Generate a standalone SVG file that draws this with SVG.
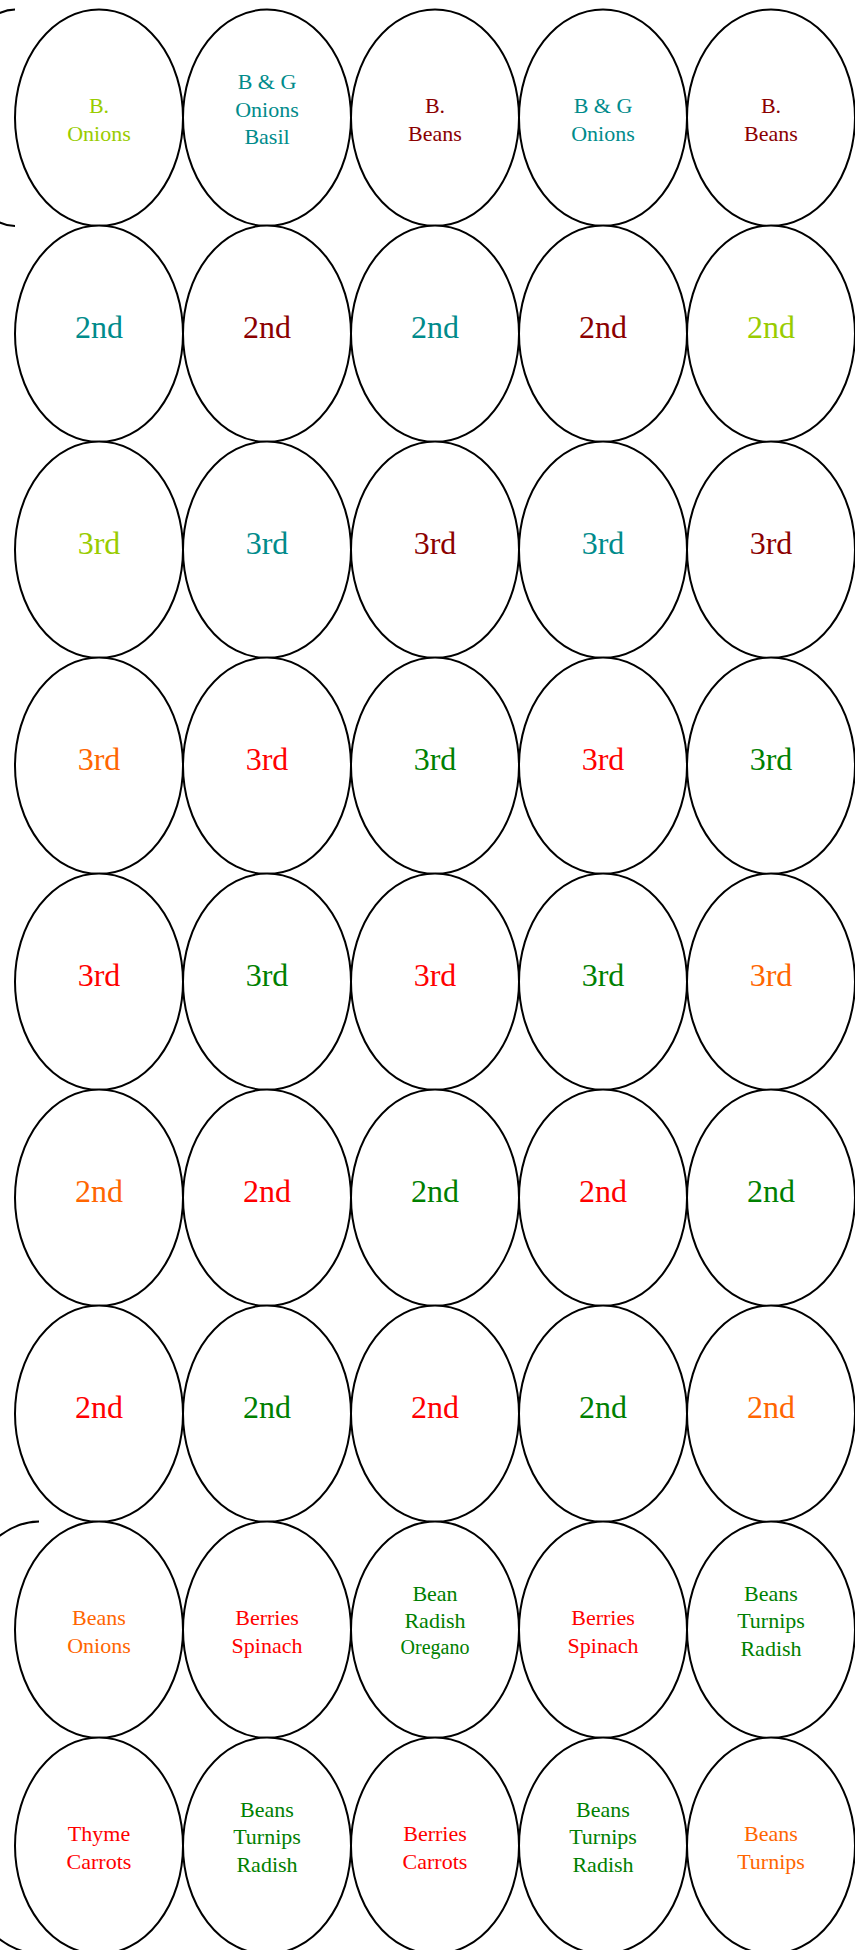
<svg xmlns="http://www.w3.org/2000/svg" width="855" height="1950" viewBox="0 0 855 1950">
<style>
.b{fill:#fff;stroke:#000;stroke-width:2}
.br{fill:none;stroke:#000;stroke-width:2}
text{font-family:"Liberation Serif","Times New Roman",serif;text-anchor:middle}
.s{font-size:22px}
.l{font-size:32px}
.o{font-size:20px}
.yg{fill:#99cc00}.tl{fill:#008b8b}.dr{fill:#8b0000}.or{fill:#ff6600}.rd{fill:#ff0000}.gr{fill:#008000}
</style>
<rect width="855" height="1950" fill="#fff"/>
<g id="connectors">
<path class="br" d="M15,9.5 A60,108.25 0 0 0 15,226"/>
<path class="br" d="M39,1521.5 A110,216 0 0 0 39,1953.5"/>
</g>
<!-- Row 1 cy=117.75 -->
<g id="r1c1"><ellipse class="b" cx="99" cy="117.75" rx="84" ry="108.25"/><text class="s yg" x="99" y="113.3">B.</text><text class="s yg" x="99" y="141">Onions</text></g>
<g id="r1c2"><ellipse class="b" cx="267" cy="117.75" rx="84" ry="108.25"/><text class="s tl" x="267" y="89.3">B &amp; G</text><text class="s tl" x="267" y="116.7">Onions</text><text class="s tl" x="267" y="144.3">Basil</text></g>
<g id="r1c3"><ellipse class="b" cx="435" cy="117.75" rx="84" ry="108.25"/><text class="s dr" x="435" y="113.3">B.</text><text class="s dr" x="435" y="141">Beans</text></g>
<g id="r1c4"><ellipse class="b" cx="603" cy="117.75" rx="84" ry="108.25"/><text class="s tl" x="603" y="113.3">B &amp; G</text><text class="s tl" x="603" y="141">Onions</text></g>
<g id="r1c5"><ellipse class="b" cx="771" cy="117.75" rx="84" ry="108.25"/><text class="s dr" x="771" y="113.3">B.</text><text class="s dr" x="771" y="141">Beans</text></g>
<!-- Row 2 cy=333.75 -->
<g id="r2c1"><ellipse class="b" cx="99" cy="333.75" rx="84" ry="108.25"/><text class="l tl" x="99" y="338.3">2nd</text></g>
<g id="r2c2"><ellipse class="b" cx="267" cy="333.75" rx="84" ry="108.25"/><text class="l dr" x="267" y="338.3">2nd</text></g>
<g id="r2c3"><ellipse class="b" cx="435" cy="333.75" rx="84" ry="108.25"/><text class="l tl" x="435" y="338.3">2nd</text></g>
<g id="r2c4"><ellipse class="b" cx="603" cy="333.75" rx="84" ry="108.25"/><text class="l dr" x="603" y="338.3">2nd</text></g>
<g id="r2c5"><ellipse class="b" cx="771" cy="333.75" rx="84" ry="108.25"/><text class="l yg" x="771" y="338.3">2nd</text></g>
<!-- Row 3 cy=549.75 -->
<g id="r3c1"><ellipse class="b" cx="99" cy="549.75" rx="84" ry="108.25"/><text class="l yg" x="99" y="554.3">3rd</text></g>
<g id="r3c2"><ellipse class="b" cx="267" cy="549.75" rx="84" ry="108.25"/><text class="l tl" x="267" y="554.3">3rd</text></g>
<g id="r3c3"><ellipse class="b" cx="435" cy="549.75" rx="84" ry="108.25"/><text class="l dr" x="435" y="554.3">3rd</text></g>
<g id="r3c4"><ellipse class="b" cx="603" cy="549.75" rx="84" ry="108.25"/><text class="l tl" x="603" y="554.3">3rd</text></g>
<g id="r3c5"><ellipse class="b" cx="771" cy="549.75" rx="84" ry="108.25"/><text class="l dr" x="771" y="554.3">3rd</text></g>
<!-- Row 4 cy=765.75 -->
<g id="r4c1"><ellipse class="b" cx="99" cy="765.75" rx="84" ry="108.25"/><text class="l or" x="99" y="770.3">3rd</text></g>
<g id="r4c2"><ellipse class="b" cx="267" cy="765.75" rx="84" ry="108.25"/><text class="l rd" x="267" y="770.3">3rd</text></g>
<g id="r4c3"><ellipse class="b" cx="435" cy="765.75" rx="84" ry="108.25"/><text class="l gr" x="435" y="770.3">3rd</text></g>
<g id="r4c4"><ellipse class="b" cx="603" cy="765.75" rx="84" ry="108.25"/><text class="l rd" x="603" y="770.3">3rd</text></g>
<g id="r4c5"><ellipse class="b" cx="771" cy="765.75" rx="84" ry="108.25"/><text class="l gr" x="771" y="770.3">3rd</text></g>
<!-- Row 5 cy=981.75 -->
<g id="r5c1"><ellipse class="b" cx="99" cy="981.75" rx="84" ry="108.25"/><text class="l rd" x="99" y="986.3">3rd</text></g>
<g id="r5c2"><ellipse class="b" cx="267" cy="981.75" rx="84" ry="108.25"/><text class="l gr" x="267" y="986.3">3rd</text></g>
<g id="r5c3"><ellipse class="b" cx="435" cy="981.75" rx="84" ry="108.25"/><text class="l rd" x="435" y="986.3">3rd</text></g>
<g id="r5c4"><ellipse class="b" cx="603" cy="981.75" rx="84" ry="108.25"/><text class="l gr" x="603" y="986.3">3rd</text></g>
<g id="r5c5"><ellipse class="b" cx="771" cy="981.75" rx="84" ry="108.25"/><text class="l or" x="771" y="986.3">3rd</text></g>
<!-- Row 6 cy=1197.75 -->
<g id="r6c1"><ellipse class="b" cx="99" cy="1197.75" rx="84" ry="108.25"/><text class="l or" x="99" y="1202.3">2nd</text></g>
<g id="r6c2"><ellipse class="b" cx="267" cy="1197.75" rx="84" ry="108.25"/><text class="l rd" x="267" y="1202.3">2nd</text></g>
<g id="r6c3"><ellipse class="b" cx="435" cy="1197.75" rx="84" ry="108.25"/><text class="l gr" x="435" y="1202.3">2nd</text></g>
<g id="r6c4"><ellipse class="b" cx="603" cy="1197.75" rx="84" ry="108.25"/><text class="l rd" x="603" y="1202.3">2nd</text></g>
<g id="r6c5"><ellipse class="b" cx="771" cy="1197.75" rx="84" ry="108.25"/><text class="l gr" x="771" y="1202.3">2nd</text></g>
<!-- Row 7 cy=1413.75 -->
<g id="r7c1"><ellipse class="b" cx="99" cy="1413.75" rx="84" ry="108.25"/><text class="l rd" x="99" y="1418.3">2nd</text></g>
<g id="r7c2"><ellipse class="b" cx="267" cy="1413.75" rx="84" ry="108.25"/><text class="l gr" x="267" y="1418.3">2nd</text></g>
<g id="r7c3"><ellipse class="b" cx="435" cy="1413.75" rx="84" ry="108.25"/><text class="l rd" x="435" y="1418.3">2nd</text></g>
<g id="r7c4"><ellipse class="b" cx="603" cy="1413.75" rx="84" ry="108.25"/><text class="l gr" x="603" y="1418.3">2nd</text></g>
<g id="r7c5"><ellipse class="b" cx="771" cy="1413.75" rx="84" ry="108.25"/><text class="l or" x="771" y="1418.3">2nd</text></g>
<!-- Row 8 cy=1629.75 -->
<g id="r8c1"><ellipse class="b" cx="99" cy="1629.75" rx="84" ry="108.25"/><text class="s or" x="99" y="1625">Beans</text><text class="s or" x="99" y="1652.7">Onions</text></g>
<g id="r8c2"><ellipse class="b" cx="267" cy="1629.75" rx="84" ry="108.25"/><text class="s rd" x="267" y="1625">Berries</text><text class="s rd" x="267" y="1652.7">Spinach</text></g>
<g id="r8c3"><ellipse class="b" cx="435" cy="1629.75" rx="84" ry="108.25"/><text class="s gr" x="435" y="1600.7">Bean</text><text class="s gr" x="435" y="1628.3">Radish</text><text class="o gr" x="435" y="1654">Oregano</text></g>
<g id="r8c4"><ellipse class="b" cx="603" cy="1629.75" rx="84" ry="108.25"/><text class="s rd" x="603" y="1625">Berries</text><text class="s rd" x="603" y="1652.7">Spinach</text></g>
<g id="r8c5"><ellipse class="b" cx="771" cy="1629.75" rx="84" ry="108.25"/><text class="s gr" x="771" y="1600.7">Beans</text><text class="s gr" x="771" y="1628.3">Turnips</text><text class="s gr" x="771" y="1656">Radish</text></g>
<!-- Row 9 cy=1845.75 -->
<g id="r9c1"><ellipse class="b" cx="99" cy="1845.75" rx="84" ry="108.25"/><text class="s rd" x="99" y="1841">Thyme</text><text class="s rd" x="99" y="1868.5">Carrots</text></g>
<g id="r9c2"><ellipse class="b" cx="267" cy="1845.75" rx="84" ry="108.25"/><text class="s gr" x="267" y="1816.7">Beans</text><text class="s gr" x="267" y="1844.3">Turnips</text><text class="s gr" x="267" y="1872.3">Radish</text></g>
<g id="r9c3"><ellipse class="b" cx="435" cy="1845.75" rx="84" ry="108.25"/><text class="s rd" x="435" y="1841">Berries</text><text class="s rd" x="435" y="1868.5">Carrots</text></g>
<g id="r9c4"><ellipse class="b" cx="603" cy="1845.75" rx="84" ry="108.25"/><text class="s gr" x="603" y="1816.7">Beans</text><text class="s gr" x="603" y="1844.3">Turnips</text><text class="s gr" x="603" y="1872.3">Radish</text></g>
<g id="r9c5"><ellipse class="b" cx="771" cy="1845.75" rx="84" ry="108.25"/><text class="s or" x="771" y="1841">Beans</text><text class="s or" x="771" y="1868.5">Turnips</text></g>
</svg>
